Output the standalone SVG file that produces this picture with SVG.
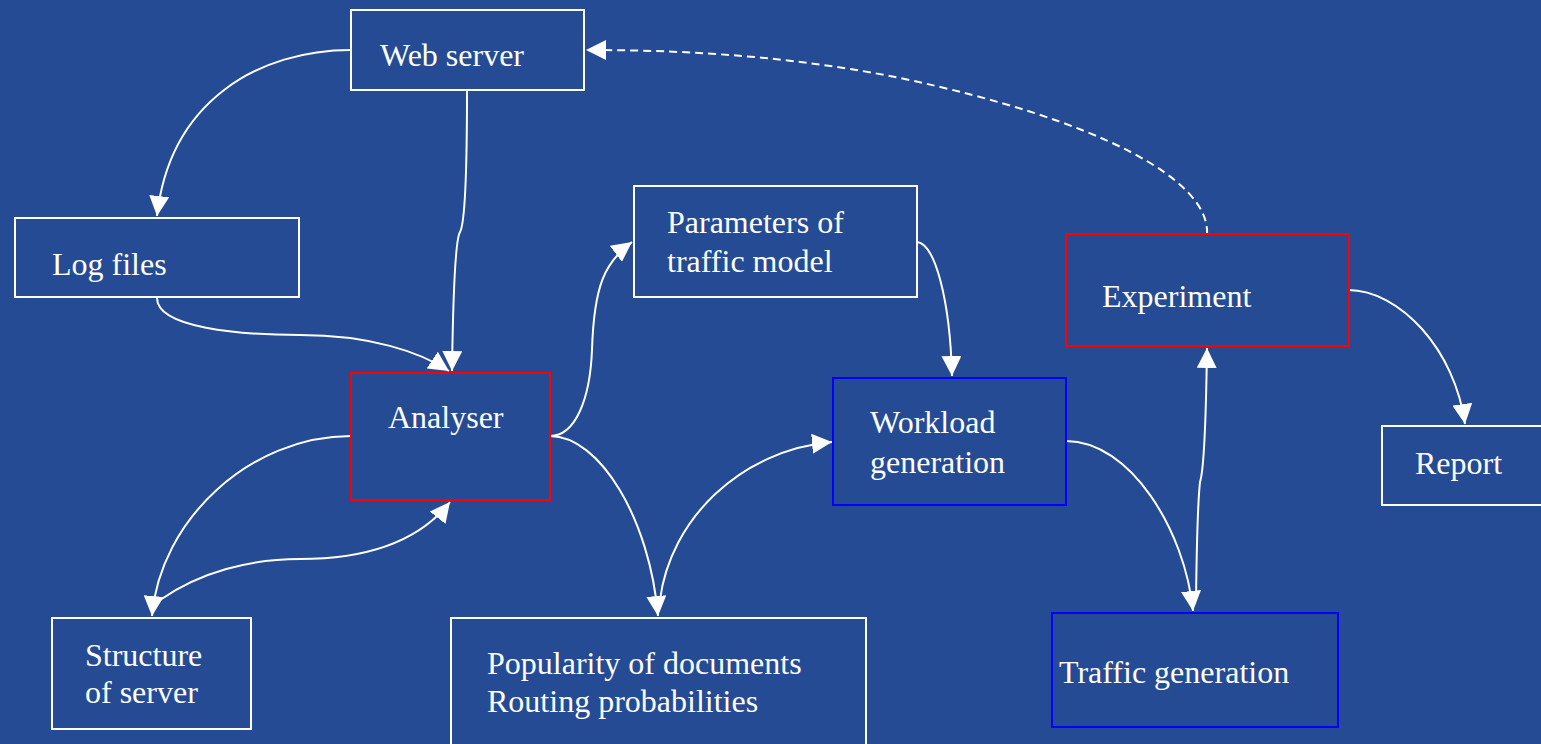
<svg xmlns="http://www.w3.org/2000/svg" width="1541" height="744" viewBox="0 0 1541 744">
  <style>
    .box { fill: none; stroke-width: 2; }
    .plain { stroke: #ffffff; }
    .red { stroke: #ff0000; }
    .blue { stroke: #0000ff; }
    .label { font-family: "Liberation Serif", "Times New Roman", serif; font-size: 32px; fill: #ffffff; }
    .edge { fill: none; stroke: #ffffff; stroke-width: 2; }
    .dashed { stroke-dasharray: 8 5; }
  </style>
  <defs>
    <marker id="arrow" markerUnits="userSpaceOnUse" viewBox="0 0 20 20" markerWidth="20" markerHeight="20" refX="20" refY="10" orient="auto">
      <path d="M0,0 L20,10 L0,20 z" fill="#ffffff"/>
    </marker>
  </defs>

  <rect x="0" y="0" width="1541" height="744" fill="#254b95"/>

  <g id="connectors">
    <path class="edge" d="M351,50 C260,50 170,100 157,216" marker-end="url(#arrow)"/>
    <path class="edge" d="M467,90 C467,180 464,225 460,232 C455,240 453,300 452,371" marker-end="url(#arrow)"/>
    <path class="edge" d="M157,298 C157,328 240,335 300,335 C370,335 420,352 449,371" marker-end="url(#arrow)"/>
    <path class="edge" d="M351,436 C250,436 160,520 152,616" marker-end="url(#arrow)"/>
    <path class="edge" d="M160,600 C200,572 250,559 300,559 C370,559 420,540 450,502" marker-end="url(#arrow)"/>
    <path class="edge" d="M550,436 C575,436 590,400 592,350 C594,285 605,262 632,242" marker-end="url(#arrow)"/>
    <path class="edge" d="M550,436 C600,436 650,520 658,616" marker-end="url(#arrow)"/>
    <path class="edge" d="M660,600 C670,520 740,450 832,442" marker-end="url(#arrow)"/>
    <path class="edge" d="M916,242 C935,242 950,300 952,376" marker-end="url(#arrow)"/>
    <path class="edge" d="M1066,441 C1130,441 1185,530 1193,611" marker-end="url(#arrow)"/>
    <path class="edge" d="M1196,600 C1197,520 1198,500 1200,482 C1204,470 1206,420 1207,348" marker-end="url(#arrow)"/>
    <path class="edge dashed" d="M1207,234 C1210,180 1100,120 900,78 C800,58 700,50 586,50" marker-end="url(#arrow)"/>
    <path class="edge" d="M1348,290 C1400,290 1455,350 1465,424" marker-end="url(#arrow)"/>
  </g>

  <g id="web-server">
    <rect class="box plain" x="351" y="10" width="233" height="80"/>
    <text class="label" x="380" y="66">Web server</text>
  </g>
  <g id="log-files">
    <rect class="box plain" x="15" y="218" width="284" height="79"/>
    <text class="label" x="52" y="275">Log files</text>
  </g>
  <g id="analyser">
    <rect class="box red" x="351" y="373" width="199" height="127"/>
    <text class="label" x="388" y="428">Analyser</text>
  </g>
  <g id="parameters">
    <rect class="box plain" x="634" y="186" width="283" height="111"/>
    <text class="label" x="667" y="233">Parameters of</text>
    <text class="label" x="667" y="272">traffic model</text>
  </g>
  <g id="workload">
    <rect class="box blue" x="833" y="378" width="233" height="127"/>
    <text class="label" x="870" y="433">Workload</text>
    <text class="label" x="870" y="473">generation</text>
  </g>
  <g id="experiment">
    <rect class="box red" x="1066" y="234" width="283" height="112"/>
    <text class="label" x="1102" y="307">Experiment</text>
  </g>
  <g id="report">
    <rect class="box plain" x="1382" y="426" width="170" height="79"/>
    <text class="label" x="1415" y="474">Report</text>
  </g>
  <g id="structure">
    <rect class="box plain" x="52" y="618" width="199" height="111"/>
    <text class="label" x="85" y="666">Structure</text>
    <text class="label" x="85" y="703">of server</text>
  </g>
  <g id="popularity">
    <rect class="box plain" x="451" y="618" width="415" height="140"/>
    <text class="label" x="487" y="674">Popularity of documents</text>
    <text class="label" x="487" y="712">Routing probabilities</text>
  </g>
  <g id="traffic">
    <rect class="box blue" x="1052" y="613" width="286" height="114"/>
    <text class="label" x="1059" y="683">Traffic generation</text>
  </g>
</svg>
